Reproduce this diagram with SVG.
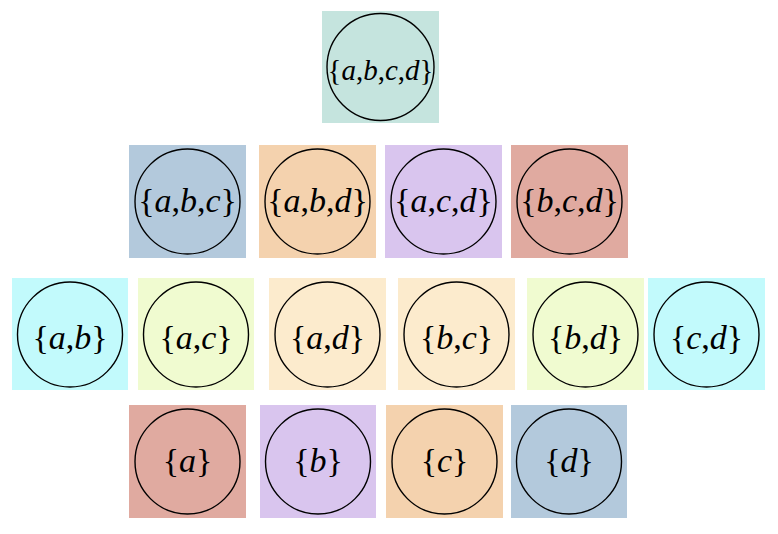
<svg xmlns="http://www.w3.org/2000/svg" width="778" height="534" viewBox="0 0 778 534">
<style>
  .c { fill: none; stroke: #000; stroke-width: 1.4; }
  .t { font-family: "Liberation Serif", "Times New Roman", serif; font-size: 34px; fill: #000; text-anchor: middle; }
  .t0 { font-size: 29px; }
  .i { font-style: italic; }
  .teal { fill: #c5e4de; }
  .blue { fill: #b3c9dc; }
  .peach { fill: #f4d2ae; }
  .lav { fill: #d9c5ee; }
  .sal { fill: #e0aaa0; }
  .cyan { fill: #c2fafc; }
  .yg { fill: #f0fbd0; }
  .wheat { fill: #fcebcd; }
</style>
<rect width="778" height="534" fill="#fff"/>
<g id="connectors"></g>

<g id="n-abcd"><rect class="teal" x="322" y="11" width="117" height="112"/><circle class="c" cx="380.5" cy="67" r="53.5"/><text class="t t0" x="380.5" y="80">{<tspan class="i">a</tspan>,<tspan class="i">b</tspan>,<tspan class="i">c</tspan>,<tspan class="i">d</tspan>}</text></g>

<g id="n-abc"><rect class="blue" x="129" y="145" width="117" height="113"/><circle class="c" cx="187.5" cy="201.5" r="52.5"/><text class="t" x="187.5" y="212">{<tspan class="i">a</tspan>,<tspan class="i">b</tspan>,<tspan class="i">c</tspan>}</text></g>
<g id="n-abd"><rect class="peach" x="259" y="145" width="117" height="113"/><circle class="c" cx="317.5" cy="201.5" r="52.5"/><text class="t" x="317.5" y="212">{<tspan class="i">a</tspan>,<tspan class="i">b</tspan>,<tspan class="i">d</tspan>}</text></g>
<g id="n-acd"><rect class="lav" x="385" y="145" width="117" height="113"/><circle class="c" cx="443.5" cy="201.5" r="52.5"/><text class="t" x="443.5" y="212">{<tspan class="i">a</tspan>,<tspan class="i">c</tspan>,<tspan class="i">d</tspan>}</text></g>
<g id="n-bcd"><rect class="sal" x="511" y="145" width="117" height="113"/><circle class="c" cx="569.5" cy="201.5" r="52.5"/><text class="t" x="569.5" y="212">{<tspan class="i">b</tspan>,<tspan class="i">c</tspan>,<tspan class="i">d</tspan>}</text></g>

<g id="n-ab"><rect class="cyan" x="12" y="278" width="116" height="112"/><circle class="c" cx="70" cy="334.5" r="52.5"/><text class="t" x="70" y="349">{<tspan class="i">a</tspan>,<tspan class="i">b</tspan>}</text></g>
<g id="n-ac"><rect class="yg" x="138" y="278" width="116" height="112"/><circle class="c" cx="196" cy="334.5" r="52.5"/><text class="t" x="196" y="349">{<tspan class="i">a</tspan>,<tspan class="i">c</tspan>}</text></g>
<g id="n-ad"><rect class="wheat" x="269" y="278" width="117" height="112"/><circle class="c" cx="327.5" cy="334.5" r="52.5"/><text class="t" x="327.5" y="349">{<tspan class="i">a</tspan>,<tspan class="i">d</tspan>}</text></g>
<g id="n-bc"><rect class="wheat" x="398" y="278" width="117" height="112"/><circle class="c" cx="456.5" cy="334.5" r="52.5"/><text class="t" x="456.5" y="349">{<tspan class="i">b</tspan>,<tspan class="i">c</tspan>}</text></g>
<g id="n-bd"><rect class="yg" x="527" y="278" width="117" height="112"/><circle class="c" cx="585.5" cy="334.5" r="52.5"/><text class="t" x="585.5" y="349">{<tspan class="i">b</tspan>,<tspan class="i">d</tspan>}</text></g>
<g id="n-cd"><rect class="cyan" x="648" y="278" width="117" height="112"/><circle class="c" cx="706.5" cy="334.5" r="52.5"/><text class="t" x="706.5" y="349">{<tspan class="i">c</tspan>,<tspan class="i">d</tspan>}</text></g>

<g id="n-a"><rect class="sal" x="129" y="405" width="117" height="113"/><circle class="c" cx="187.5" cy="461.5" r="52.5"/><text class="t" x="187.5" y="472">{<tspan class="i">a</tspan>}</text></g>
<g id="n-b"><rect class="lav" x="260" y="405" width="116" height="113"/><circle class="c" cx="318" cy="461.5" r="52.5"/><text class="t" x="318" y="472">{<tspan class="i">b</tspan>}</text></g>
<g id="n-c"><rect class="peach" x="386" y="405" width="117" height="113"/><circle class="c" cx="444.5" cy="461.5" r="52.5"/><text class="t" x="444.5" y="472">{<tspan class="i">c</tspan>}</text></g>
<g id="n-d"><rect class="blue" x="511" y="405" width="116" height="113"/><circle class="c" cx="569" cy="461.5" r="52.5"/><text class="t" x="569" y="472">{<tspan class="i">d</tspan>}</text></g>
</svg>
